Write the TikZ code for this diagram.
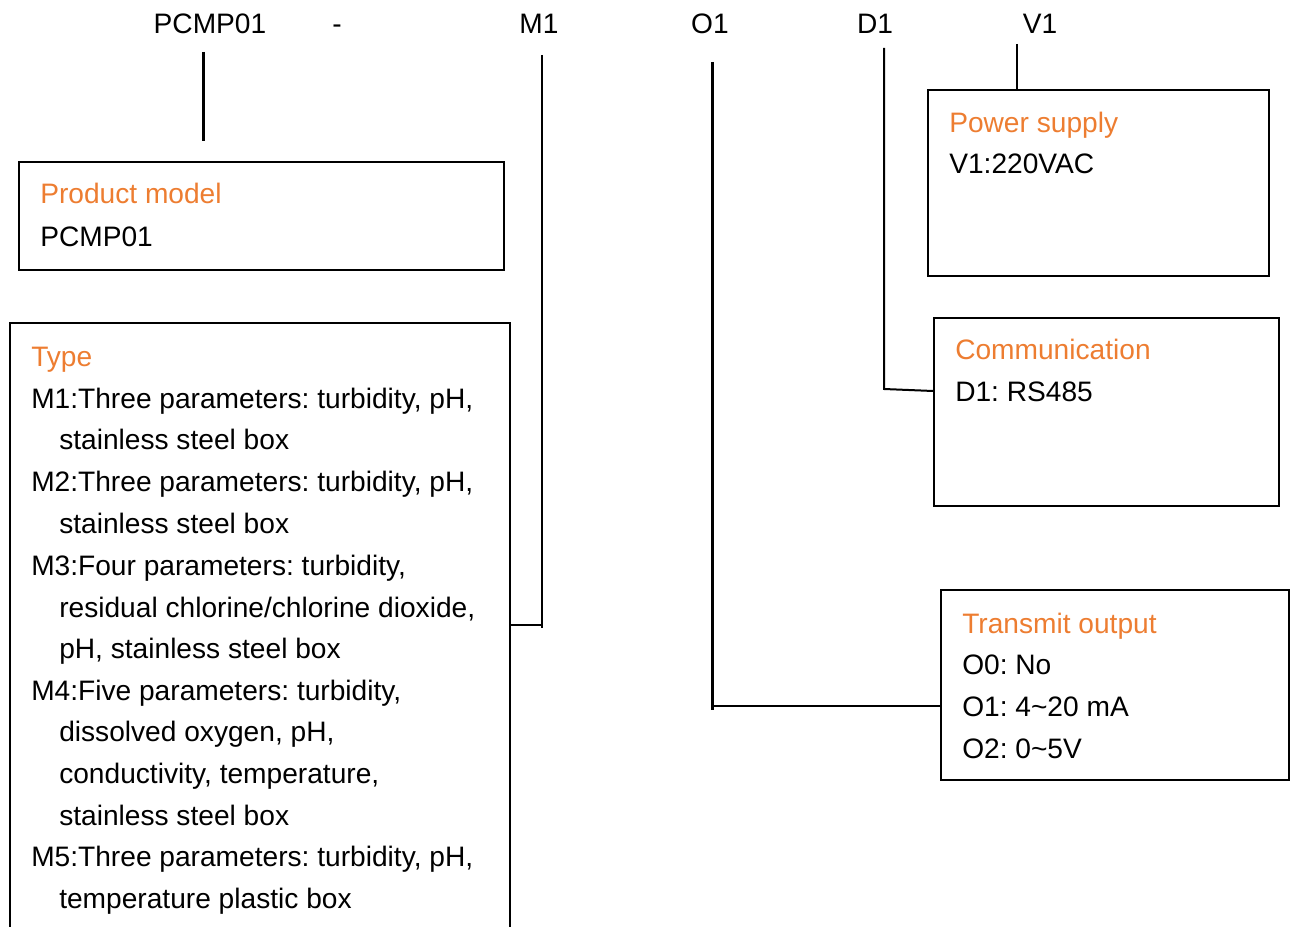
\documentclass[tikz,border=0pt]{standalone}
\usepackage{fontspec}
\setmainfont{Liberation Sans}
\usetikzlibrary{positioning, fit}
\definecolor{hdorange}{HTML}{ED7D31}
\frenchspacing

\begin{document}
\begin{tikzpicture}
            [x=0.75pt, y=-0.75pt,
             box/.style={draw, line width=1.5pt, inner sep=0pt},
             txt/.style={anchor=base west, inner sep=0pt, font=\fontsize{21.1}{25}\selectfont},
             hd/.style={txt, text=hdorange},
             code/.style={anchor=base, inner sep=0pt, font=\fontsize{21.1}{25}\selectfont},
             thickln/.style={line width=2.25pt},
             thinln/.style={line width=1.5pt}]

            \useasboundingbox (0,0) rectangle (1290,927);

            % code letters
            \node[code] (cP) at (210,34) {PCMP01};
            \node[code] (cDash) at (337,34) {-};
            \node[code] (cM) at (539,34) {M1};
            \node[code] (cO) at (710,34) {O1};
            \node[code] (cD) at (875,34) {D1};
            \node[code] (cV) at (1040,34) {V1};

            % boxes
            \node[box, fit={(19,162) (504,270)}] (model) {};
            \node[box, fit={(10,323) (510,945)}] (type) {};
            \node[box, fit={(928,90) (1269,276)}] (power) {};
            \node[box, fit={(934,318) (1279,506)}] (comm) {};
            \node[box, fit={(941,590) (1289,780)}] (trans) {};

            % product model
            \node[hd] (modelH) at (40,204) {Product model};
            \node[txt] (modelA) at (40,247) {PCMP01};

            % type
            \node[hd] (typeH) at (31,367) {Type};
            \node[txt] (t1) at (31,409) {M1:Three parameters: turbidity, pH,};
            \node[txt] (t2) at (59,450) {stainless steel box};
            \node[txt] (t3) at (31,492) {M2:Three parameters: turbidity, pH,};
            \node[txt] (t4) at (59,533) {stainless steel box};
            \node[txt] (t5) at (31,575) {M3:Four parameters: turbidity,};
            \node[txt] (t6) at (59,617) {residual chlorine/chlorine dioxide,};
            \node[txt] (t7) at (59,658) {pH, stainless steel box};
            \node[txt] (t8) at (31,700) {M4:Five parameters: turbidity,};
            \node[txt] (t9) at (59,741) {dissolved oxygen, pH,};
            \node[txt] (t10) at (59,783) {conductivity, temperature,};
            \node[txt] (t11) at (59,825) {stainless steel box};
            \node[txt] (t12) at (31,866) {M5:Three parameters: turbidity, pH,};
            \node[txt] (t13) at (59,908) {temperature plastic box};

            % power supply
            \node[hd] (powerH) at (949,133) {Power supply};
            \node[txt] (powerA) at (949,174) {V1:220VAC};

            % communication
            \node[hd] (commH) at (955,360) {Communication};
            \node[txt] (commA) at (955,402) {D1: RS485};

            % transmit output
            \node[hd] (transH) at (962,633) {Transmit output};
            \node[txt] (trans0) at (962,674) {O0: No};
            \node[txt] (trans1) at (962,716) {O1: 4\textasciitilde20 mA};
            \node[txt] (trans2) at (962,758) {O2: 0\textasciitilde5V};

            % connectors
            \coordinate (pTop) at (203,52);
            \coordinate (pEnd) at (203,141);
            \draw[thickln] (pTop) -- (pEnd);

            \coordinate (mTop) at (542,55);
            \coordinate (mEnd) at (542,628);
            \coordinate (mJoin) at (543,625);
            \draw[thinln] (mTop) -- (mEnd);
            \draw[thinln] (type.east |- mJoin) -- (mJoin);

            \coordinate (oTop) at (712,62);
            \coordinate (oEnd) at (712,710);
            \coordinate (oJoin) at (712,706);
            \draw[thickln] (oTop) -- (oEnd);
            \draw[thinln] (oJoin) -- (trans.west |- oJoin);

            \coordinate (dTop) at (884,48);
            \coordinate (dJoin) at (884,389);
            \draw[thinln] (dTop) -- (dJoin) -- ([yshift=-1.5pt]comm.west |- dJoin);

            \coordinate (vTop) at (1017,44);
            \draw[thinln] (vTop) -- (vTop |- power.north);
        \end{tikzpicture}
\end{document}
